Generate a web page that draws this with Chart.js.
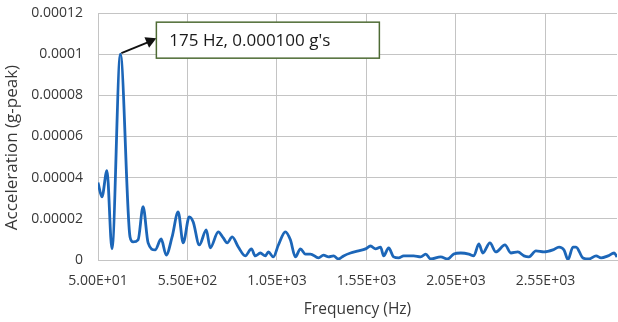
<!DOCTYPE html>
<html lang="en">
<head>
    <meta charset="UTF-8">
    <title>Acceleration vs Frequency</title>
    <script src="https://cdn.jsdelivr.net/npm/chart.js"></script>
    <style>
        body {
            margin: 0;
            background: #fff;
        }
        .chart-wrapper {
            width: 618px;
            height: 322px;
        }
    </style>
</head>
<body>
    <div class="chart-wrapper">
        <canvas id="spectrum"></canvas>
    </div>

    <script>
        // frequency (Hz) and acceleration (g-peak)
        const freqHz = [50, 72, 100, 128, 175, 229, 246, 274, 302, 330, 369, 403, 431, 464, 498, 526, 560, 582, 616, 655,
            677, 722, 750, 772, 800, 834, 873, 907, 929, 957, 985, 1002, 1030, 1058, 1097, 1125, 1153, 1181, 1209, 1237,
            1282, 1310, 1338, 1366, 1394, 1422, 1461, 1506, 1545, 1573, 1601, 1629, 1646, 1674, 1702, 1730, 1758, 1814,
            1853, 1881, 1909, 1965, 2004, 2038, 2077, 2122, 2150, 2178, 2200, 2240, 2273, 2324, 2357, 2396, 2430, 2458,
            2497, 2542, 2592, 2626, 2654, 2676, 2704, 2721, 2760, 2794, 2833, 2861, 2900, 2934, 2950];
        const accel = [0.0000376, 0.0000307, 0.0000434, 0.0000054, 0.000100, 0.0000112, 0.0000088, 0.0000098, 0.0000259, 0.0000083,
            0.0000049, 0.0000102, 0.0000024, 0.0000112, 0.0000234, 0.0000083, 0.000021, 0.0000185, 0.0000073, 0.0000146,
            0.0000059, 0.0000137, 0.0000107, 0.0000083, 0.0000112, 0.0000063, 0.000002, 0.0000054, 0.000002, 0.0000034,
            0.000002, 0.0000039, 0.0000015, 0.0000073, 0.0000137, 0.0000098, 0.0000015, 0.0000054, 0.0000029, 0.0000029,
            0.000001, 0.0000024, 0.0000015, 0.000002, 0.0000005, 0.000002, 0.0000034, 0.0000044, 0.0000054, 0.0000068,
            0.0000054, 0.0000063, 0.000002, 0.0000059, 0.0000015, 0.000001, 0.000002, 0.000002,
            0.0000015, 0.0000029, 0.0000005, 0.0000015, 0.0000005, 0.0000029, 0.0000034, 0.0000029, 0.000002, 0.0000078,
            0.0000034, 0.0000083, 0.0000039, 0.0000073, 0.0000034, 0.0000039, 0.000002, 0.0000015,
            0.0000044, 0.0000039, 0.0000049, 0.0000063, 0.0000049, 0.0000002, 0.0000063, 0.0000063, 0.000001, 0.0000005,
            0.000002, 0.000001, 0.000002, 0.0000034, 0.0000015];

        const xTickValues = [50, 550, 1050, 1550, 2050, 2550];
        const xTickLabels = ['5.00E+01', '5.50E+02', '1.05E+03', '1.55E+03', '2.05E+03', '2.55E+03'];
        const yTickValues = [0, 0.00002, 0.00004, 0.00006, 0.00008, 0.0001, 0.00012];
        const yTickLabels = ['0', '0.00002', '0.00004', '0.00006', '0.00008', '0.0001', '0.00012'];

        const peak = { freq: 175, value: 0.0001, label: "175 Hz, 0.000100 g's" };

        const points = freqHz.map((f, i) => ({ x: f, y: accel[i] }));

        const FONT = "'Open Sans', sans-serif";
        const TEXT = '#383838';
        const GRID = '#c4c4c4';

        // callout box with arrow pointing at the peak
        const calloutPlugin = {
            id: 'callout',
            afterDatasetsDraw(chart) {
                const ctx = chart.ctx;
                const px = chart.scales.x.getPixelForValue(peak.freq);
                const py = chart.scales.y.getPixelForValue(peak.value);
                const boxL = px + 36, boxT = py - 32, boxW = 223, boxH = 36;
                const tipX = boxL, tipY = py - 16;

                ctx.save();
                // arrow
                ctx.strokeStyle = '#111';
                ctx.fillStyle = '#111';
                ctx.lineWidth = 1.8;
                ctx.beginPath();
                ctx.moveTo(px + 1, py - 1);
                ctx.lineTo(tipX - 8, tipY + 4);
                ctx.stroke();
                const ang = Math.atan2(tipY - py, tipX - px);
                ctx.beginPath();
                ctx.moveTo(tipX, tipY);
                ctx.lineTo(tipX - 12 * Math.cos(ang - 0.5), tipY - 12 * Math.sin(ang - 0.5));
                ctx.lineTo(tipX - 12 * Math.cos(ang + 0.5), tipY - 12 * Math.sin(ang + 0.5));
                ctx.closePath();
                ctx.fill();

                // box
                ctx.fillStyle = '#fff';
                ctx.fillRect(boxL, boxT, boxW, boxH);
                ctx.strokeStyle = '#4e6b34';
                ctx.lineWidth = 1.5;
                ctx.strokeRect(boxL, boxT, boxW, boxH);

                ctx.fillStyle = '#1a1a1a';
                ctx.font = '17px ' + FONT;
                ctx.textBaseline = 'middle';
                ctx.textAlign = 'left';
                ctx.fillText(peak.label, boxL + 13, boxT + boxH / 2 + 1);
                ctx.restore();
            }
        };

        new Chart(document.getElementById('spectrum').getContext('2d'), {
            type: 'line',
            data: {
                datasets: [{
                    label: 'Acceleration',
                    data: points,
                    borderColor: '#1c66b8',
                    borderWidth: 2.8,
                    pointRadius: 0,
                    fill: false,
                    cubicInterpolationMode: 'monotone'
                }]
            },
            options: {
                responsive: true,
                maintainAspectRatio: false,
                animation: false,
                layout: { padding: { top: 13, right: 1, left: 0, bottom: 0 } },
                plugins: {
                    legend: { display: false },
                    tooltip: { enabled: false }
                },
                scales: {
                    x: {
                        type: 'linear',
                        min: 50,
                        max: 2950,
                        afterBuildTicks: (scale) => {
                            scale.ticks = xTickValues.map(v => ({ value: v }));
                        },
                        afterFit: (scale) => { scale.height = 62; },
                        ticks: {
                            autoSkip: false,
                            maxRotation: 0,
                            padding: 13,
                            color: TEXT,
                            font: { family: FONT, size: 14 },
                            callback: (v) => xTickLabels[xTickValues.indexOf(v)]
                        },
                        grid: { color: GRID, drawTicks: false },
                        border: { color: GRID },
                        title: {
                            display: true,
                            text: 'Frequency (Hz)',
                            color: TEXT,
                            font: { family: FONT, size: 15.5 },
                            padding: { top: 2, bottom: 3 }
                        }
                    },
                    y: {
                        min: 0,
                        max: 0.00012,
                        afterBuildTicks: (scale) => {
                            scale.ticks = yTickValues.map(v => ({ value: v }));
                        },
                        afterFit: (scale) => {
                            scale.width = 98;
                            scale.paddingTop = 0;
                            scale.paddingBottom = 0;
                        },
                        ticks: {
                            padding: 15,
                            color: TEXT,
                            font: { family: FONT, size: 14 },
                            callback: (v) => yTickLabels[yTickValues.indexOf(v)]
                        },
                        grid: { color: GRID, drawTicks: false },
                        border: { color: GRID },
                        title: {
                            display: true,
                            // trailing spaces nudge the title down like the original
                            text: 'Acceleration (g-peak)\u00a0\u00a0\u00a0\u00a0\u00a0',
                            color: TEXT,
                            font: { family: FONT, size: 17 },
                            padding: { top: 2, bottom: 2 }
                        }
                    }
                }
            },
            plugins: [calloutPlugin]
        });
    </script>
</body>
</html>
